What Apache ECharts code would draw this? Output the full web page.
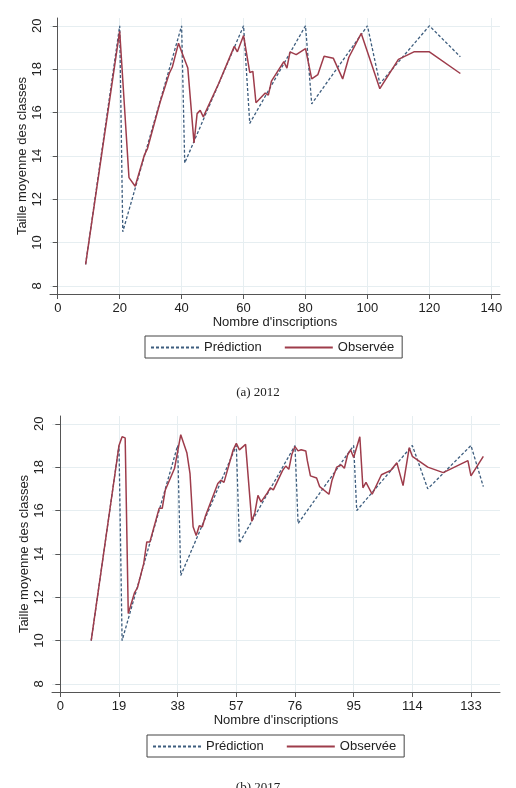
<!DOCTYPE html>
<html>
<head>
<meta charset="utf-8">
<title>Taille moyenne des classes</title>
<script src="https://cdn.jsdelivr.net/npm/echarts@6/dist/echarts.min.js"></script>
<style>
  html, body { margin: 0; padding: 0; background: #fff; }
  #chart { width: 516px; height: 788px; }
</style>
</head>
<body>
<div id="chart"></div>
<script>
// 2012 - prédiction
var pred2012X = [9, 20, 21, 40, 41, 60, 62, 80, 82, 100, 104, 120, 130];
var pred2012Y = [9, 20, 10.5, 20, 13.67, 20, 15.5, 20, 16.4, 20, 17.33, 20, 18.57];
// 2012 - observée
var obs2012X = [9, 20, 23, 25, 28, 29, 33, 36, 37, 39, 40, 42, 44, 45, 46, 47, 52, 57, 58, 60,
                62, 63, 64, 67, 68, 69, 73, 74, 75, 77, 80, 82, 84, 86, 89, 92, 94, 98, 104,
                110, 115, 120, 130];
var obs2012Y = [9, 19.75, 13.0, 12.6, 14.05, 14.35, 16.45, 17.8, 18.1, 19.2, 18.8, 18.05, 14.6,
                15.95, 16.1, 15.8, 17.35, 19.05, 18.8, 19.55,
                17.85, 17.9, 16.45, 16.9, 16.8, 17.45, 18.35, 18.05, 18.8, 18.67, 18.95, 17.55,
                17.75, 18.6, 18.5, 17.55, 18.55, 19.65, 17.1,
                18.45, 18.8, 18.8, 17.8];

// 2017 - prédiction
var pred2017X = [10, 19, 20, 38, 39, 57, 58, 76, 77, 95, 96, 114, 119, 133, 137];
var pred2017Y = [10, 19, 10, 19, 13, 19, 14.5, 19, 15.4, 19, 16, 19, 17, 19, 17.1];
// 2017 - observée
var obs2017X = [10, 19, 20, 21, 22, 24, 25, 27, 28, 29, 32, 33, 34, 37, 39, 41, 42, 43, 44, 45,
                46, 47, 51, 52, 53, 56, 57, 58, 60, 62, 63, 64, 65, 67, 68, 69, 71, 72, 73, 74,
                75, 76, 77, 78, 79.5, 80, 81, 83, 84, 87, 88, 89.5, 91, 92, 93, 94, 95, 97, 98,
                99, 101, 104, 107, 109, 111, 113, 114, 119, 124, 132, 133, 137];
var obs2017Y = [10, 19, 19.4, 19.35, 11.25, 12.2, 12.45, 13.55, 14.55, 14.55, 16.1, 16.1, 16.95,
                17.95, 19.5, 18.65, 17.7, 15.25, 14.85, 15.3,
                15.25, 15.75, 17.25, 17.4, 17.3, 18.8, 19.1, 18.8, 19.05, 15.5, 15.9, 16.7, 16.4,
                16.8, 17.05, 16.95, 17.55, 17.85, 18.05, 17.9,
                18.6, 18.95, 18.75, 18.8, 18.75, 18.3, 17.6, 17.5, 17.1, 16.75, 17.4, 18.0, 18.1,
                17.95, 18.55, 18.8, 18.45, 19.4, 17.05,
                17.3, 16.75, 17.65, 17.85, 18.2, 17.15, 18.9, 18.5, 18.0, 17.75, 18.3, 17.6, 18.5];

var xTicks2012 = [0, 20, 40, 60, 80, 100, 120, 140];
var xTicks2017 = [0, 19, 38, 57, 76, 95, 114, 133];
var yTicks = [8, 10, 12, 14, 16, 18, 20];

var predColor = '#3d5d7e';
var obsColor = '#9e3c4b';
var gridColor = '#e6eef1';
var axisColor = '#555';
var font = 'Liberation Sans';

function zip(xs, ys) {
    return xs.map(function (x, i) { return [x, ys[i]]; });
}

function xAxisOf(idx, ticks, min, max) {
    return {
        type: 'value', gridIndex: idx, min: min, max: max,
        name: "Nombre d'inscriptions", nameLocation: 'middle', nameGap: 22,
        nameMoveOverlap: false,
        nameTextStyle: { fontFamily: font, fontSize: 13, color: '#222' },
        axisLine: { show: true, lineStyle: { color: axisColor, width: 1 } },
        axisTick: { show: true, length: 5, customValues: ticks, lineStyle: { color: axisColor } },
        axisLabel: { customValues: ticks, margin: 8, fontFamily: font, fontSize: 13, color: '#222' },
        splitLine: { show: true, lineStyle: { color: gridColor, width: 1 } }
    };
}

function yAxisOf(idx) {
    return {
        type: 'value', gridIndex: idx, min: 7.63, max: 20.36,
        name: 'Taille moyenne des classes', nameLocation: 'middle', nameGap: 21,
        nameMoveOverlap: false,
        nameTextStyle: { fontFamily: font, fontSize: 13, color: '#222' },
        axisLine: { show: true, lineStyle: { color: axisColor, width: 1 } },
        axisTick: { show: true, length: 5, customValues: yTicks, lineStyle: { color: axisColor } },
        axisLabel: { customValues: yTicks, rotate: 90, margin: 6, fontFamily: font, fontSize: 13, color: '#222' },
        splitLine: { show: true, lineStyle: { color: gridColor, width: 1 } }
    };
}

function legendOf(left, top) {
    return {
        left: left, top: top, orient: 'horizontal',
        data: ['Prédiction', 'Observée'],
        itemWidth: 48, itemHeight: 10, itemGap: 22,
        padding: [5, 8, 4, 5],
        borderColor: '#444', borderWidth: 1, borderRadius: 0,
        backgroundColor: '#fff',
        // pas de symbole dans la légende, seulement le trait
        itemStyle: { color: 'rgba(0,0,0,0)', borderWidth: 0 },
        textStyle: { fontFamily: font, fontSize: 13, color: '#222' }
    };
}

function lineSeries(name, idx, data, color, dashed) {
    return {
        name: name, type: 'line', xAxisIndex: idx, yAxisIndex: idx,
        data: data, symbol: 'none', animation: false,
        lineStyle: { color: color, width: dashed ? 1.3 : 1.5, type: dashed ? [3, 2] : 'solid' },
        itemStyle: { color: color },
        z: dashed ? 2 : 3
    };
}

var chart = echarts.init(document.getElementById('chart'));
var option = {
    backgroundColor: '#fff',
    animation: false,
    grid: [
        { left: 50, top: 18, width: 450, height: 276 },
        { left: 52, top: 416, width: 448, height: 276 }
    ],
    xAxis: [
        xAxisOf(0, xTicks2012, -2.5, 142.8),
        xAxisOf(1, xTicks2017, -2.7, 142.4)
    ],
    yAxis: [yAxisOf(0), yAxisOf(1)],
    legend: [legendOf(145, 336), legendOf(147, 735)],
    series: [
        lineSeries('Prédiction', 0, zip(pred2012X, pred2012Y), predColor, true),
        lineSeries('Observée', 0, zip(obs2012X, obs2012Y), obsColor, false),
        lineSeries('Prédiction', 1, zip(pred2017X, pred2017Y), predColor, true),
        lineSeries('Observée', 1, zip(obs2017X, obs2017Y), obsColor, false)
    ],
    graphic: [
        { type: 'text', left: 'center', top: 386,
          style: { text: '(a) 2012', font: '13px "Liberation Serif"', fill: '#222' } },
        { type: 'text', left: 'center', top: 781,
          style: { text: '(b) 2017', font: '13px "Liberation Serif"', fill: '#222' } }
    ]
};
chart.setOption(option);
</script>
</body>
</html>
